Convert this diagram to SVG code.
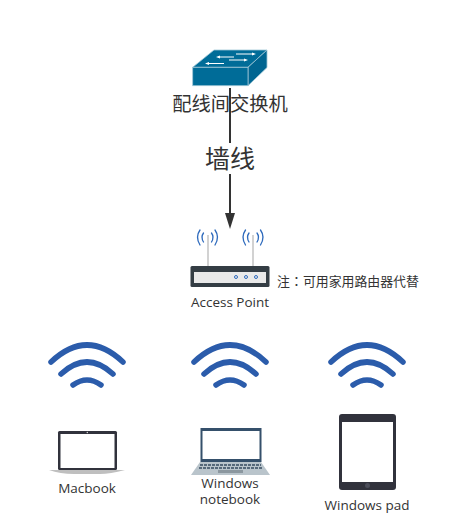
<svg xmlns="http://www.w3.org/2000/svg" xmlns:xlink="http://www.w3.org/1999/xlink" width="460" height="522" viewBox="0 0 460 522">
<style>
text{font-family:"Open Sans","Noto Sans CJK SC",sans-serif;fill:#333;text-anchor:middle}
.cjk{font-family:"Noto Sans CJK SC",sans-serif}
.wifi path{fill:none;stroke:#2b5cab;stroke-width:5.500;stroke-linecap:round}
.ant{fill:none;stroke:#2f6bbd;stroke-width:1.300;stroke-linecap:round}
.conn{stroke:#333;stroke-width:2;fill:none}
</style>
<defs>
<g id="w" class="wifi">
<path d="M-36 32Q0 -2 36 32"/>
<path d="M-26 44Q0 20 26 44"/>
<path d="M-14 55Q0 45 14 55"/>
</g>
<g id="a">
<path class="ant" d="M-4 -4Q-7 0 -4 5"/><path class="ant" d="M4 -4Q7 0 4 5"/>
<path class="ant" d="M-7.500 -7Q-12.500 0 -7.500 8"/><path class="ant" d="M7.500 -7Q12.500 0 7.500 8"/>
</g>
</defs>
<g id="connectors">
<path class="conn" d="M230 88V143M230 174V214"/>
<path d="M225 213H235L230 229Z" fill="#333"/>
</g>
<g id="switch">
<path d="M192.700 67.300L214 50H267L248 67.300Z" fill="#006c98" stroke="#9fc6d6" stroke-width="0.800"/>
<path d="M248 67.300L267 50V67.500L248 85.700Z" fill="#006591" stroke="#9fc6d6" stroke-width="0.800"/>
<rect x="192.700" y="67.300" width="55.300" height="18.400" fill="#006c98" stroke="#9fc6d6" stroke-width="0.800"/>
<path d="M218 57H234M236 54H254M206 63.500H224M229 60H246" stroke="#fff" stroke-width="1" fill="none"/>
<path d="M216 57l4 -1.500v3zM256 54l-4 -1.500v3zM205 63.500l4 -1.500v3zM248 60l-4 -1.500v3z" fill="#fff"/>
<text class="cjk" x="230" y="111" font-size="19.300">配线间交换机</text>
</g>
<g id="wall-label"><text class="cjk" x="230" y="168" font-size="25">墙线</text></g>
<g id="access-point">
<use xlink:href="#a" href="#a" x="207.500" y="237"/>
<use xlink:href="#a" href="#a" x="253" y="237"/>
<path d="M208 235V267M253 235V267" stroke="#c4c4c4" stroke-width="1.500"/>
<rect x="190.500" y="266" width="79" height="21" rx="1.500" fill="#343d44"/>
<rect x="194" y="272" width="72" height="11" fill="#e9e9e9"/>
<g fill="none" stroke="#2f6bbd" stroke-width="1"><circle cx="236" cy="277" r="1.500"/><circle cx="246" cy="277" r="1.500"/><circle cx="256" cy="277" r="1.500"/></g>
<text x="230" y="307" font-size="13.500">Access Point</text>
</g>
<g id="note"><text x="348" y="286" font-size="12.900" style="font-family:'Noto Sans CJK SC',sans-serif">注<tspan style="font-family:'Noto Sans CJK TC',sans-serif">：</tspan>可用家用路由器代替</text></g>
<g id="wifi-1"><use xlink:href="#w" href="#w" x="87" y="330"/></g>
<g id="wifi-2"><use xlink:href="#w" href="#w" x="230" y="330"/></g>
<g id="wifi-3"><use xlink:href="#w" href="#w" x="367" y="330"/></g>
<g id="macbook">
<rect x="58" y="431" width="59" height="39" rx="1.500" fill="#31323c"/>
<rect x="60.500" y="434" width="54" height="34" fill="#fff"/>
<circle cx="87.300" cy="432.500" r="0.700" fill="#ddd"/>
<path d="M49 470H125Q110 474 100 474H74Q60 474 49 470Z" fill="#bfbfbf"/>
<text x="87" y="493" font-size="13.500">Macbook</text>
</g>
<g id="windows-notebook">
<rect x="200.500" y="428" width="61" height="34" fill="#35506b"/>
<rect x="202.500" y="431" width="57" height="28" fill="#fff"/>
<path d="M200 462H261L270 475H191Z" fill="#b9c4cb"/>
<path d="M200 465H261M199 468H262" stroke="#56697a" stroke-width="2" stroke-dasharray="3 1"/>
<rect x="218" y="470" width="25" height="3" fill="#8b979f"/>
<text x="230" y="488" font-size="13.500">Windows</text>
<text x="230" y="504" font-size="13.500">notebook</text>
</g>
<g id="windows-pad">
<rect x="339" y="414" width="57" height="76" rx="3" fill="#31323c"/>
<rect x="342" y="422" width="51" height="60" fill="#fff"/>
<circle cx="367.500" cy="485.500" r="2.500" fill="#4c4e5a"/>
<text x="367" y="510" font-size="13.500">Windows pad</text>
</g>
</svg>
